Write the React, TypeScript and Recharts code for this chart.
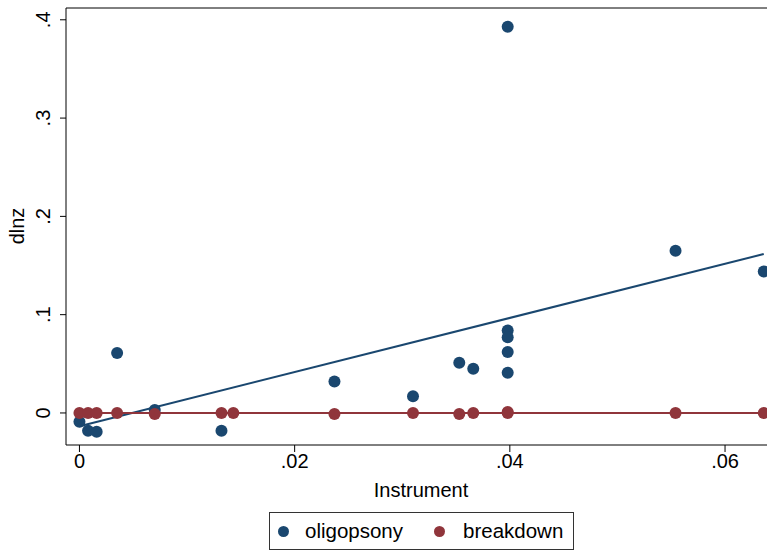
import {
  ComposedChart,
  Scatter,
  XAxis,
  YAxis,
  ReferenceLine,
} from 'recharts';

// Stata-ish colours
const navy = '#1a476f';
const maroon = '#90353b';
const font = '"Liberation Sans", Arial, sans-serif';

// oligopsony points
const oligX = [0, 0.0008, 0.0016, 0.0035, 0.007, 0.0132, 0.0237, 0.031, 0.0353, 0.0366, 0.0398, 0.0398, 0.0398, 0.0398, 0.0398, 0.0554, 0.0636];
const oligY = [-0.009, -0.018, -0.019, 0.061, 0.003, -0.018, 0.032, 0.017, 0.051, 0.045, 0.393, 0.084, 0.077, 0.062, 0.041, 0.165, 0.144];

// breakdown points
const brkX = [0, 0.0008, 0.0016, 0.0035, 0.007, 0.0132, 0.0143, 0.0237, 0.031, 0.0353, 0.0366, 0.0398, 0.0398, 0.0554, 0.0636];
const brkY = [0, 0, 0, 0, -0.001, 0, 0, -0.001, 0, -0.001, 0, 0.001, 0, 0, 0];

// linear fits (end points)
const oligFitX = [0, 0.0636];
const oligFitY = [-0.0135, 0.1617];
const brkFitX = [0, 0.0636];
const brkFitY = [0, 0];

const xTicks = [0, 0.02, 0.04, 0.06];
const yTicks = [0, 0.1, 0.2, 0.3, 0.4];
const xDomain = [-0.00125, 0.0639];
const yDomain = [-0.0326, 0.412];

const zip = (xs: number[], ys: number[]) => xs.map((x, i) => ({ x, y: ys[i] }));

const fmt = (v: number) => (v === 0 ? '0' : String(v).replace(/^0/, ''));

const YTick = ({ y, payload }: any) => (
  <text
    x={43}
    y={y}
    transform={`rotate(-90, 43, ${y})`}
    textAnchor="middle"
    dominantBaseline="central"
    fontSize={20}
    fontFamily={font}
    fill="#000"
  >
    {fmt(payload.value)}
  </text>
);

const noDot = () => <g />;

export default function App() {
  return (
    <div style={{ position: 'absolute', left: 0, top: 0, width: 767, height: 555, background: '#fff' }}>
      <ComposedChart
        width={767}
        height={555}
        margin={{ top: 8, right: 0, bottom: 45, left: 0 }}
      >
        <XAxis
          type="number"
          dataKey="x"
          domain={xDomain}
          ticks={xTicks}
          allowDataOverflow
          tickFormatter={fmt}
          height={65}
          stroke="#000"
          tickSize={7}
          tickMargin={2}
          tick={{ fill: '#000', fontSize: 20, fontFamily: font }}
          label={{
            content: () => (
              <text x={421} y={497} textAnchor="middle" fontSize={20} fontFamily={font} fill="#000">
                Instrument
              </text>
            ),
          }}
        />
        <YAxis
          type="number"
          dataKey="y"
          domain={yDomain}
          ticks={yTicks}
          allowDataOverflow
          width={66}
          stroke="#000"
          tickSize={6}
          tick={<YTick />}
          label={{
            content: () => (
              <text
                x={17}
                y={226}
                transform="rotate(-90, 17, 226)"
                textAnchor="middle"
                dominantBaseline="central"
                fontSize={20}
                fontFamily={font}
                fill="#000"
              >
                dlnz
              </text>
            ),
          }}
        />
        <ReferenceLine y={yDomain[1]} stroke="#000" />
        <Scatter
          data={zip(oligFitX, oligFitY)}
          line={{ stroke: navy, strokeWidth: 2 }}
          shape={noDot}
          legendType="none"
          isAnimationActive={false}
        />
        <Scatter
          data={zip(brkFitX, brkFitY)}
          line={{ stroke: maroon, strokeWidth: 2 }}
          shape={noDot}
          legendType="none"
          isAnimationActive={false}
        />
        <Scatter
          name="oligopsony"
          data={zip(oligX, oligY)}
          fill={navy}
          shape={(p: any) => <circle cx={p.cx} cy={p.cy} r={6} fill={navy} />}
          isAnimationActive={false}
        />
        <Scatter
          name="breakdown"
          data={zip(brkX, brkY)}
          fill={maroon}
          shape={(p: any) => <circle cx={p.cx} cy={p.cy} r={6} fill={maroon} />}
          isAnimationActive={false}
        />
      </ComposedChart>
      <div
        style={{
          position: 'absolute',
          left: 269,
          top: 512,
          width: 305,
          height: 38,
          border: '1px solid #333',
          boxSizing: 'border-box',
          fontFamily: font,
          fontSize: 20.5,
          color: '#000',
        }}
      >
        <span style={{ position: 'absolute', left: 8, top: 13, width: 11, height: 11, borderRadius: '50%', background: navy }} />
        <span style={{ position: 'absolute', left: 35, top: 6, lineHeight: '23px' }}>oligopsony</span>
        <span style={{ position: 'absolute', left: 164, top: 13, width: 11, height: 11, borderRadius: '50%', background: maroon }} />
        <span style={{ position: 'absolute', left: 193, top: 6, lineHeight: '23px' }}>breakdown</span>
      </div>
    </div>
  );
}
